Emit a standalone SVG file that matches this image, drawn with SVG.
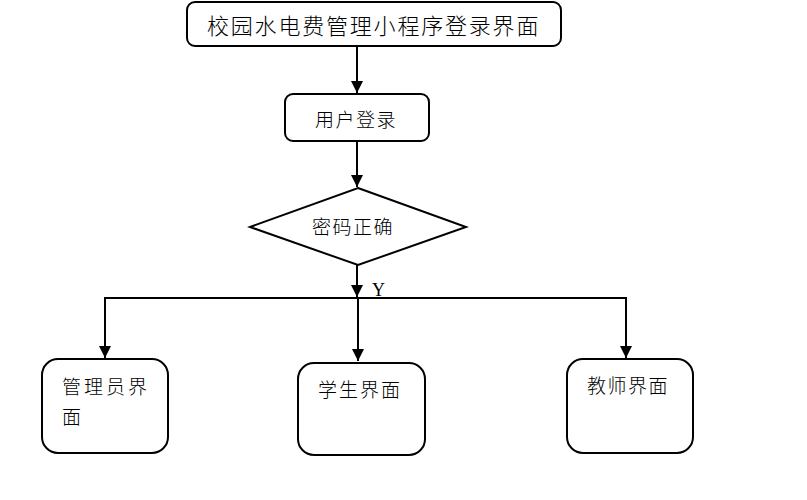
<svg xmlns="http://www.w3.org/2000/svg" width="807" height="500" viewBox="0 0 807 500">
<style>
.box{fill:#fff;stroke:#000;stroke-width:2}
.t{font-family:"Liberation Serif","Noto Sans CJK SC",serif;font-size:19px;font-weight:300;fill:#000}
.ln{fill:none;stroke:#000;stroke-width:2}
</style>
<defs>
<marker id="ah" markerWidth="12" markerHeight="12" refX="12" refY="6" orient="auto" markerUnits="userSpaceOnUse" viewBox="0 0 12 12">
<path d="M0,0 L12,6 L0,12 Z" fill="#000"/>
</marker>
</defs>
<rect width="807" height="500" fill="#fff"/>
<g id="connectors">
<line class="ln" x1="357" y1="46" x2="357" y2="93" marker-end="url(#ah)"/>
<line class="ln" x1="357" y1="141" x2="357" y2="187" marker-end="url(#ah)"/>
<line class="ln" x1="357" y1="265" x2="357" y2="297" marker-end="url(#ah)"/>
<polyline class="ln" points="105,358 105,298 626,298 626,358"/>
<line class="ln" x1="105" y1="298" x2="105" y2="358" marker-end="url(#ah)"/>
<line class="ln" x1="626" y1="298" x2="626" y2="358" marker-end="url(#ah)"/>
<line class="ln" x1="358" y1="298" x2="358" y2="361" marker-end="url(#ah)"/>
<text x="372" y="296" style="font-family:'Liberation Serif',serif;font-size:18px">Y</text>
</g>
<g id="title">
<rect class="box" x="187" y="2" width="374" height="44" rx="8"/>
<text class="t" x="207" y="34" style="font-size:22px;letter-spacing:1.8px">校园水电费管理小程序登录界面</text>
</g>
<g id="login">
<rect class="box" x="285" y="94" width="144" height="47" rx="8"/>
<text class="t" x="315" y="127" style="letter-spacing:1.5px">用户登录</text>
</g>
<g id="check">
<polygon class="box" points="358,188 466,227 358,265 250,227"/>
<text class="t" x="312" y="234" style="letter-spacing:1.5px">密码正确</text>
</g>
<g id="admin">
<rect class="box" x="42" y="359" width="126" height="94" rx="16"/>
<text class="t" x="62" y="394" style="letter-spacing:3px">管理员界</text>
<text class="t" x="62" y="424">面</text>
</g>
<g id="student">
<rect class="box" x="298" y="363" width="127" height="92" rx="16"/>
<text class="t" x="318" y="397" style="letter-spacing:2px">学生界面</text>
</g>
<g id="teacher">
<rect class="box" x="567" y="359" width="126" height="94" rx="16"/>
<text class="t" x="587" y="393" style="letter-spacing:1.5px">教师界面</text>
</g>
</svg>
